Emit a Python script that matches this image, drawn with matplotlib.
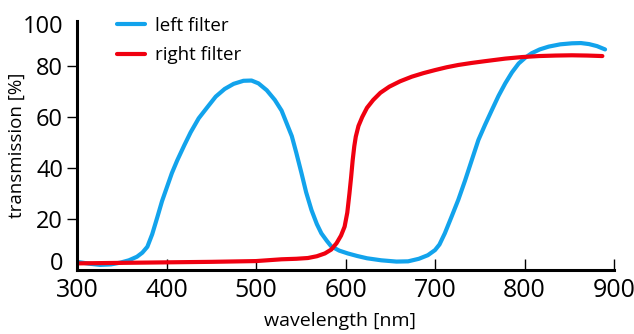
import matplotlib
matplotlib.use("Agg")
import matplotlib.pyplot as plt

plt.rcParams["font.family"] = ["Open Sans", "DejaVu Sans"]

# values
left_nm = [300, 313, 326, 338, 348.5, 358, 367, 373, 378.6, 384, 390, 395, 401,
           406, 412, 420, 427, 436, 446, 455, 465, 475, 486, 495, 502.7, 512,
           521, 528.6, 536, 540, 545, 550.8, 556, 562, 568, 573, 579, 584, 593,
           602.5, 613, 624, 640, 657, 670, 682, 692, 700, 705, 711, 718.5, 726,
           733.5, 741, 748.5, 756, 763.5, 771, 778.5, 786, 793.5, 801, 808,
           817, 827, 840, 853, 863, 872, 881, 890]
left_tr = [3.2, 2.5, 2.0, 2.2, 2.9, 3.8, 5.2, 6.8, 9.1, 14, 21, 27, 33,
           38, 43, 49, 54, 59.5, 64, 68, 71, 73, 74.2, 74.3, 73.2, 70.5,
           66.7, 62.5, 56, 52.5, 46, 38, 30.5, 23.5, 18, 14.4, 11.5, 9.3, 7.6,
           6.5, 5.5, 4.6, 3.8, 3.3, 3.4, 4.4, 5.8, 7.8, 10, 14.4, 20.9, 27.5,
           35, 43, 51, 57, 62.7, 68.3, 73.2, 77.5, 81, 83.3, 85,
           86.5, 87.6, 88.5, 88.9, 89, 88.6, 87.8, 86.5]
right_nm = [300, 350, 400, 450, 500, 528.6, 545, 558, 568, 577, 584, 590, 595,
            599, 602, 604.4, 606.3, 608, 609.8, 611.5, 614.5, 618.7, 624, 631,
            639, 649, 661, 674, 687, 700, 713, 726, 741, 756, 778.5, 797,
            816, 835, 853, 870, 887]
right_tr = [2.6, 2.8, 3.0, 3.2, 3.5, 4.2, 4.4, 4.7, 5.4, 6.5, 8.0, 10.5, 13.5,
            17, 22.5, 30, 36.5, 43, 48.5, 52.3, 56.5, 60, 63.6, 66.7,
            69.5, 71.9, 74, 75.8, 77.2, 78.4, 79.5, 80.4, 81.2, 81.9, 82.9, 83.5,
            83.9, 84.1, 84.2, 84.1, 83.9]
xticks = [300, 400, 500, 600, 700, 800, 900]
yticks = [0, 20, 40, 60, 80, 100]

fig = plt.figure(figsize=(6.34, 3.34), dpi=100)
ax = fig.add_axes([77 / 634, 1 - 270 / 334, 537 / 634, 255 / 334])
ax.plot(left_nm, left_tr, color="#12a3ec", lw=3.0, label="left filter",
        solid_capstyle="round", solid_joinstyle="round")
ax.plot(right_nm, right_tr, color="#f00010", lw=3.0, label="right filter",
        solid_capstyle="round", solid_joinstyle="round")

ax.set_xlim(300, 900)
ax.set_ylim(0, 100)
ax.set_xticks(xticks)
ax.set_yticks(yticks)
for s in ["top", "right"]:
    ax.spines[s].set_visible(False)
for s in ["left", "bottom"]:
    ax.spines[s].set_linewidth(2.2)
ax.spines["left"].set_bounds(0, 97.5)
ax.tick_params(axis="x", direction="in", length=8, width=1, labelsize=18, pad=6)
ax.tick_params(axis="y", direction="out", length=7, width=1, labelsize=17, pad=3)
# end labels sit inside the axis range like in the original
ylabels = ax.get_yticklabels()
ylabels[0].set_va("baseline")
ylabels[-1].set_va("top")
yt = ax.yaxis.get_major_ticks()
yt[0].tick1line.set_visible(False)
yt[-1].tick1line.set_visible(False)

ax.set_xlabel("wavelength [nm]", fontsize=14)
ax.set_ylabel("transmission [%]", fontsize=13.5)
ax.xaxis.set_label_coords(0.49, -0.165)
ax.yaxis.set_label_coords(-0.095, 0.49)
ax.legend(loc="upper left", bbox_to_anchor=(117 / 634, 1 - 17 / 334),
          bbox_transform=fig.transFigure, frameon=False, fontsize=13.5,
          handlelength=1.5, handletextpad=0.55, labelspacing=0.6,
          borderpad=0, borderaxespad=0)

fig.savefig("out.png", dpi=100)
